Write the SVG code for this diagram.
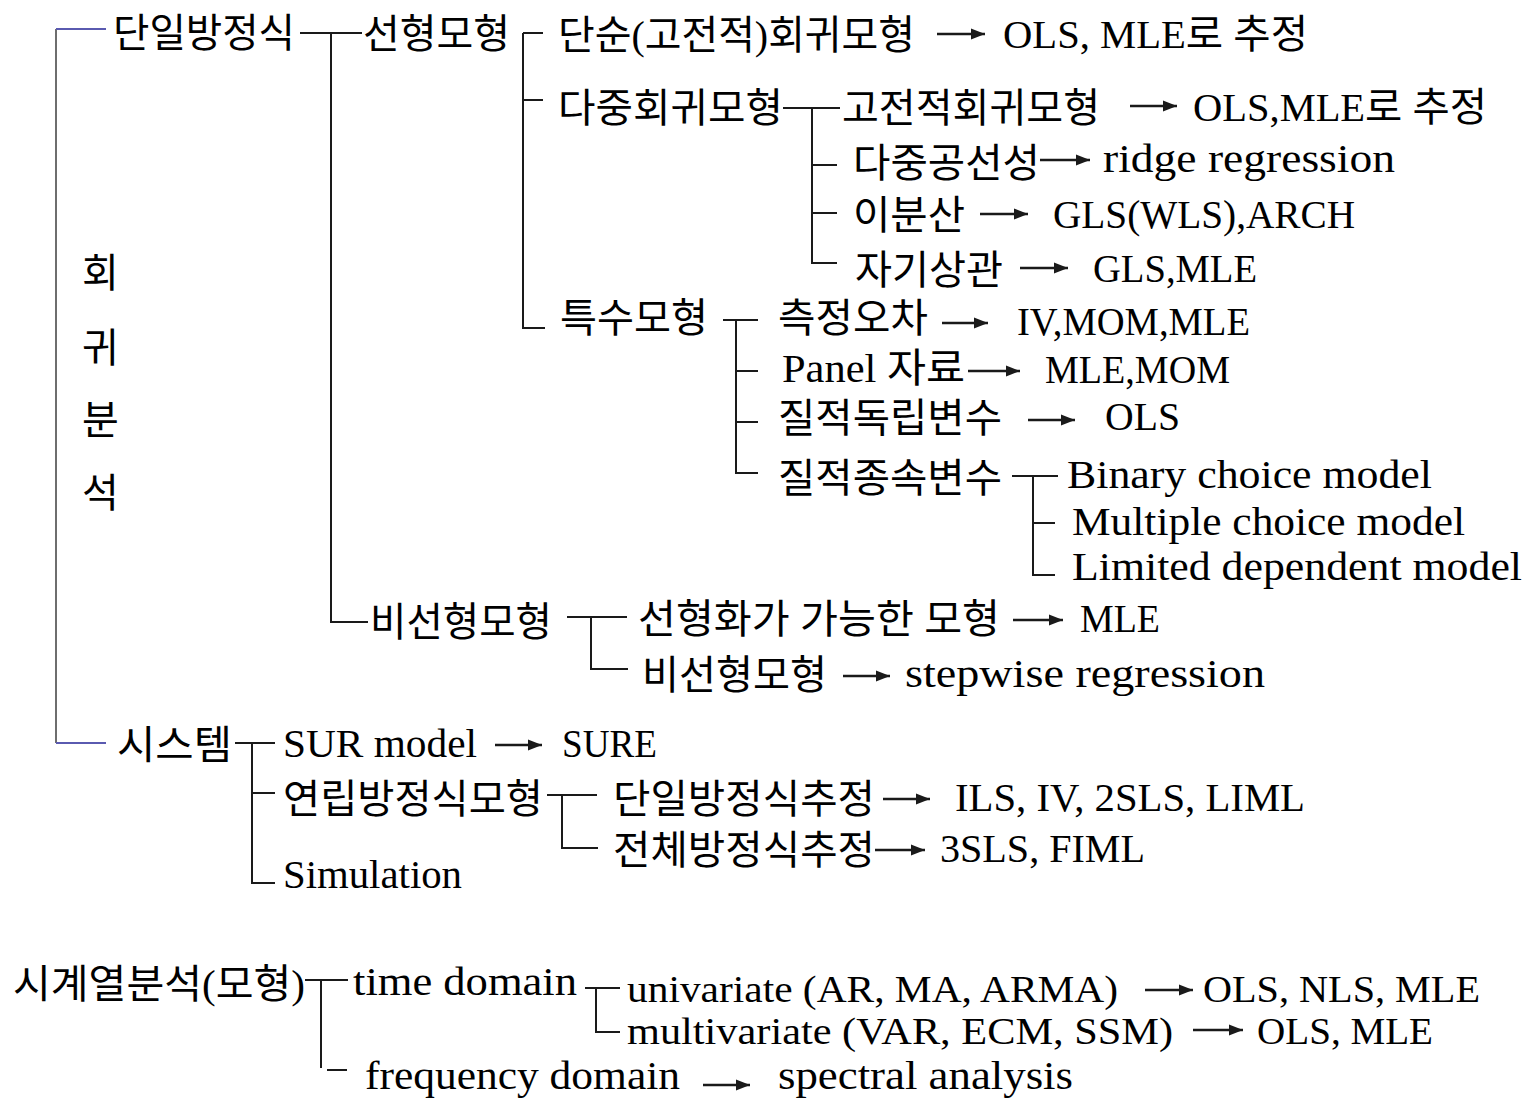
<svg xmlns="http://www.w3.org/2000/svg" width="1528" height="1103" viewBox="0 0 1528 1103">
<style>
text{font-family:"Liberation Serif","Noto Sans CJK KR",serif;font-size:40px;fill:#000}
.sm{font-size:38px}
.ln{stroke:#1a1a1a;stroke-width:2;fill:none}
.ar{stroke:#1a1a1a;stroke-width:2.4;fill:none;marker-end:url(#ah)}
.bl{stroke:#5a5ab0;stroke-width:2;fill:none}
.gr{stroke:#6e6e6e;stroke-width:2;fill:none}
</style>
<defs>
<marker id="ah" markerUnits="userSpaceOnUse" markerWidth="15" markerHeight="12" refX="14" refY="6" orient="auto">
<path d="M0,0.5 L14,6 L0,11.5 z" fill="#1a1a1a"/>
</marker>
</defs>
<rect width="1528" height="1103" fill="#fff"/>
<g id="connectors">
<path class="gr" d="M56,29 V743"/>
<path class="bl" d="M56,29 H106"/>
<path class="bl" d="M56,743 H106"/>
<path class="ln" d="M300,33 H362 M331,33 V622 H368"/>
<path class="ln" d="M523,33 V328 H545 M523,33 H543 M523,100 H543"/>
<path class="ln" d="M783,108 H840 M812,108 V263 H837 M812,165 H837 M812,213 H837"/>
<path class="ln" d="M723,320 H758 M736,320 V473 H758 M736,371 H758 M736,422 H758"/>
<path class="ln" d="M1012,476 H1058 M1033,476 V575 H1055 M1033,523 H1055"/>
<path class="ln" d="M567,617 H627 M591,617 V669 H628"/>
<path class="ln" d="M235,743 H275 M252,743 V883 H275 M252,793 H275"/>
<path class="ln" d="M547,795 H597 M562,795 V848 H598"/>
<path class="ln" d="M305,980 H348 M321,980 V1068 M327,1070 H347"/>
<path class="ln" d="M585,988 H620 M596,988 V1032 H620"/>
<path class="ar" d="M937,34 H985"/>
<path class="ar" d="M1130,106 H1177"/>
<path class="ar" d="M1040,160 H1090"/>
<path class="ar" d="M980,214 H1028"/>
<path class="ar" d="M1020,268 H1068"/>
<path class="ar" d="M942,323 H988"/>
<path class="ar" d="M968,371 H1020"/>
<path class="ar" d="M1028,420 H1075"/>
<path class="ar" d="M1013,620 H1063"/>
<path class="ar" d="M843,676 H890"/>
<path class="ar" d="M495,745 H542"/>
<path class="ar" d="M883,799 H930"/>
<path class="ar" d="M875,850 H925"/>
<path class="ar" d="M1145,990 H1193"/>
<path class="ar" d="M1193,1030 H1243"/>
<path class="ar" d="M703,1085 H750"/>
</g>
<g id="n-root"><text x="82" y="287">회</text><text x="82" y="362">귀</text><text x="82" y="434">분</text><text x="82" y="507">석</text></g>
<g id="n-single"><text x="113" y="47" textLength="182" lengthAdjust="spacingAndGlyphs">단일방정식</text></g>
<g id="n-linear"><text x="363" y="48" textLength="147" lengthAdjust="spacingAndGlyphs">선형모형</text></g>
<g id="n-simple"><text x="558" y="49" textLength="357" lengthAdjust="spacingAndGlyphs">단순(고전적)회귀모형</text><text x="1003" y="48" textLength="305" lengthAdjust="spacingAndGlyphs">OLS, MLE로 추정</text></g>
<g id="n-multi"><text x="558" y="122" textLength="225" lengthAdjust="spacingAndGlyphs">다중회귀모형</text></g>
<g id="n-classic"><text x="842" y="122" textLength="258" lengthAdjust="spacingAndGlyphs">고전적회귀모형</text><text x="1193" y="121" textLength="294" lengthAdjust="spacingAndGlyphs">OLS,MLE로 추정</text></g>
<g id="n-mc"><text x="853" y="177" textLength="187" lengthAdjust="spacingAndGlyphs">다중공선성</text><text x="1103" y="172" textLength="292" lengthAdjust="spacingAndGlyphs">ridge  regression</text></g>
<g id="n-het"><text x="853" y="229" textLength="112" lengthAdjust="spacingAndGlyphs">이분산</text><text x="1053" y="228" textLength="302" lengthAdjust="spacingAndGlyphs">GLS(WLS),ARCH</text></g>
<g id="n-ac"><text x="855" y="284" textLength="148" lengthAdjust="spacingAndGlyphs">자기상관</text><text x="1093" y="282" textLength="164" lengthAdjust="spacingAndGlyphs">GLS,MLE</text></g>
<g id="n-special"><text x="560" y="332" textLength="148" lengthAdjust="spacingAndGlyphs">특수모형</text></g>
<g id="n-me"><text x="778" y="332" textLength="150" lengthAdjust="spacingAndGlyphs">측정오차</text><text x="1017" y="335" textLength="233" lengthAdjust="spacingAndGlyphs">IV,MOM,MLE</text></g>
<g id="n-panel"><text x="782" y="382" textLength="183" lengthAdjust="spacingAndGlyphs">Panel 자료</text><text x="1045" y="383" textLength="185" lengthAdjust="spacingAndGlyphs">MLE,MOM</text></g>
<g id="n-qi"><text x="778" y="432" textLength="224" lengthAdjust="spacingAndGlyphs">질적독립변수</text><text x="1105" y="430" textLength="75" lengthAdjust="spacingAndGlyphs">OLS</text></g>
<g id="n-qd"><text x="778" y="492" textLength="224" lengthAdjust="spacingAndGlyphs">질적종속변수</text></g>
<g id="n-binary"><text x="1067" y="488" textLength="365" lengthAdjust="spacingAndGlyphs">Binary  choice  model</text></g>
<g id="n-multiple"><text x="1072" y="535" textLength="393" lengthAdjust="spacingAndGlyphs">Multiple  choice  model</text></g>
<g id="n-limited"><text x="1072" y="580" textLength="450" lengthAdjust="spacingAndGlyphs">Limited  dependent  model</text></g>
<g id="n-nonlin"><text x="370" y="636" textLength="182" lengthAdjust="spacingAndGlyphs">비선형모형</text></g>
<g id="n-linz"><text x="638" y="633" textLength="362" lengthAdjust="spacingAndGlyphs">선형화가 가능한 모형</text><text x="1080" y="632" textLength="80" lengthAdjust="spacingAndGlyphs">MLE</text></g>
<g id="n-nonlin2"><text x="642" y="689" textLength="185" lengthAdjust="spacingAndGlyphs">비선형모형</text><text x="905" y="687" textLength="360" lengthAdjust="spacingAndGlyphs">stepwise  regression</text></g>
<g id="n-system"><text x="117" y="759" textLength="115" lengthAdjust="spacingAndGlyphs">시스템</text></g>
<g id="n-sur"><text x="283" y="757" textLength="194" lengthAdjust="spacingAndGlyphs">SUR  model</text><text x="562" y="757" textLength="95" lengthAdjust="spacingAndGlyphs">SURE</text></g>
<g id="n-simul"><text x="283" y="813" textLength="260" lengthAdjust="spacingAndGlyphs">연립방정식모형</text></g>
<g id="n-sest"><text x="613" y="813" textLength="262" lengthAdjust="spacingAndGlyphs">단일방정식추정</text><text x="955" y="811" textLength="350" lengthAdjust="spacingAndGlyphs">ILS,  IV,  2SLS,  LIML</text></g>
<g id="n-fest"><text x="613" y="864" textLength="262" lengthAdjust="spacingAndGlyphs">전체방정식추정</text><text x="940" y="862" textLength="205" lengthAdjust="spacingAndGlyphs">3SLS,  FIML</text></g>
<g id="n-simulation"><text x="283" y="888" textLength="179" lengthAdjust="spacingAndGlyphs">Simulation</text></g>
<g id="n-ts"><text x="13" y="998" textLength="292" lengthAdjust="spacingAndGlyphs">시계열분석(모형)</text></g>
<g id="n-time"><text x="353" y="995" textLength="224" lengthAdjust="spacingAndGlyphs">time  domain</text></g>
<g id="n-uni"><text class="sm" x="627" y="1002" textLength="491" lengthAdjust="spacingAndGlyphs">univariate  (AR,  MA,  ARMA)</text><text class="sm" x="1203" y="1002" textLength="277" lengthAdjust="spacingAndGlyphs">OLS,  NLS,  MLE</text></g>
<g id="n-mv"><text class="sm" x="627" y="1044" textLength="546" lengthAdjust="spacingAndGlyphs">multivariate  (VAR,  ECM,  SSM)</text><text class="sm" x="1257" y="1044" textLength="176" lengthAdjust="spacingAndGlyphs">OLS,  MLE</text></g>
<g id="n-freq"><text x="365" y="1089" textLength="315" lengthAdjust="spacingAndGlyphs">frequency  domain</text><text x="778" y="1089" textLength="295" lengthAdjust="spacingAndGlyphs">spectral  analysis</text></g>
</svg>
